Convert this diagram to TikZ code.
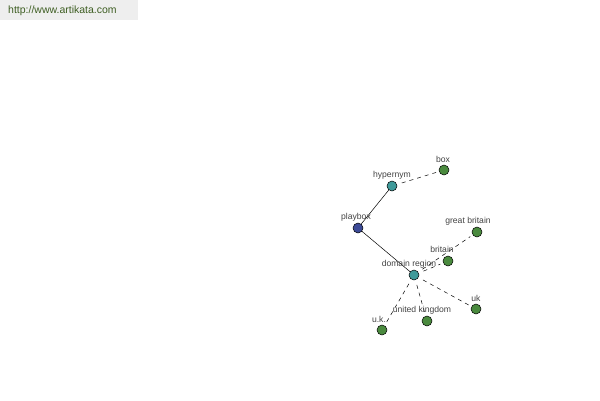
\documentclass[tikz,border=0pt]{standalone}
\usepackage{fontspec}
\setmainfont{Liberation Sans}
\begin{document}
\begin{tikzpicture}[x=1pt,y=-1pt,
  vtx/.style={circle,draw=black,line width=0.5pt,minimum size=10pt,inner sep=0pt},
  cblue/.style={vtx,fill=nblue},
  cteal/.style={vtx,fill=nteal},
  cgreen/.style={vtx,fill=ngreen},
  lbl/.style={text=lblgray,font=\fontsize{8.6}{9}\selectfont,inner sep=0pt},
  solidedge/.style={draw=black,line width=0.5pt},
  dashedge/.style={draw=black,line width=0.5pt,dash pattern=on 4pt off 4pt,shorten <=5pt,shorten >=3pt}]
\definecolor{nblue}{HTML}{3C4A96}
\definecolor{nteal}{HTML}{3F9A9A}
\definecolor{ngreen}{HTML}{4A8A3E}
\definecolor{lblgray}{HTML}{444444}
\definecolor{wmbg}{HTML}{EEEEEE}
\definecolor{wmtext}{HTML}{3E5E22}
\useasboundingbox[fill=white] (0,0) rectangle (600,400);
\fill[wmbg] (0,0) rectangle (138,20);
\node[anchor=west,text=wmtext,font=\fontsize{10.5}{11}\selectfont,inner sep=0pt] (wm) at (8,11) {http://www.artikata.com};
% vertices
\node[cblue] (playbox) at (358,228) {};
\node[cteal] (hypernym) at (392,186) {};
\node[cgreen] (box) at (444,170) {};
\node[cteal] (domain) at (414,275) {};
\node[cgreen] (gb) at (477,232) {};
\node[cgreen] (britain) at (448,261) {};
\node[cgreen] (uk) at (476,309) {};
\node[cgreen] (ukingdom) at (427,321) {};
\node[cgreen] (ukdot) at (382,330) {};
% edges
\draw[solidedge] (playbox) -- (hypernym);
\draw[solidedge] (playbox) -- (domain);
\draw[dashedge] (hypernym) -- (box);
\draw[dashedge] (domain) -- (gb);
\draw[dashedge] (domain) -- (britain);
\draw[dashedge] (domain) -- (uk);
\draw[dashedge] (domain) -- (ukingdom);
\draw[dashedge] (domain) -- (ukdot);
% labels
\node[lbl] (lbox) at (443,159) {box};
\node[lbl] (lhyp) at (392,175) {hypernym};
\node[lbl] (lplay) at (356,217) {playbox};
\node[lbl] (lgb) at (468,221) {great britain};
\node[lbl] (lbrit) at (442,249) {britain};
\node[lbl] (ldom) at (409,264) {domain region};
\node[lbl] (luk) at (476,298) {uk};
\node[lbl] (lukk) at (422,310) {united kingdom};
\node[lbl] (lukd) at (379,319) {u.k.};
\end{tikzpicture}
\end{document}
